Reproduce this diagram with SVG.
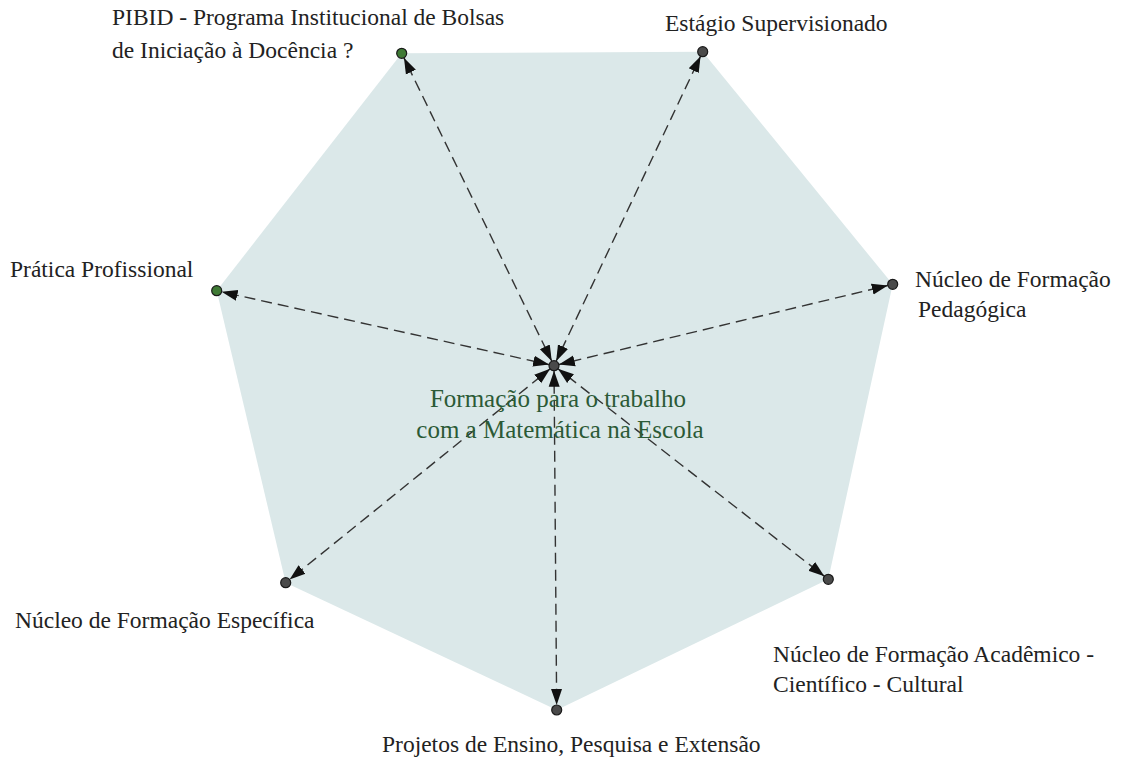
<svg xmlns="http://www.w3.org/2000/svg" width="1130" height="760" viewBox="0 0 1130 760">
<defs>
<marker id="arr" viewBox="0 0 22 14" markerUnits="userSpaceOnUse" markerWidth="22" markerHeight="14" refX="21" refY="7" orient="auto-start-reverse">
<path d="M0,1.5 L16,7 L0,12.5 z" fill="#111"/>
</marker>
<style>
.lbl{font-family:"Liberation Serif","DejaVu Serif",serif;font-size:23.5px;fill:#222}
.ctr{font-family:"Liberation Serif","DejaVu Serif",serif;font-size:25px;fill:#2b5a36}
.con{stroke:#333;stroke-width:1.4;stroke-dasharray:11 6;fill:none;marker-start:url(#arr);marker-end:url(#arr)}
.dot{fill:#4a4a4a;stroke:#1a1a1a;stroke-width:1.2}
.gdot{fill:#3f7a35;stroke:#1a1a1a;stroke-width:1.2}
</style>
</defs>
<rect width="1130" height="760" fill="#ffffff"/>
<polygon id="area" points="401.7,53.3 702.7,51.7 892.7,284.3 828.3,579.3 556.7,710 285.7,582.7 216.7,290.7" fill="#dbe8e9"/>
<g id="connectors">
<line class="con" x1="554" y1="365.7" x2="401.7" y2="53.3"/>
<line class="con" x1="554" y1="365.7" x2="702.7" y2="51.7"/>
<line class="con" x1="554" y1="365.7" x2="892.7" y2="284.3"/>
<line class="con" x1="554" y1="365.7" x2="828.3" y2="579.3"/>
<line class="con" x1="554" y1="365.7" x2="556.7" y2="710"/>
<line class="con" x1="554" y1="365.7" x2="285.7" y2="582.7"/>
<line class="con" x1="554" y1="365.7" x2="216.7" y2="290.7"/>
</g>
<g id="center">
<circle class="dot" cx="554" cy="365.7" r="5"/>
<text class="ctr" x="558" y="407" text-anchor="middle">Formação para o trabalho</text>
<text class="ctr" x="560" y="438" text-anchor="middle">com a Matemática na Escola</text>
</g>
<g id="pibid">
<circle class="gdot" cx="401.7" cy="53.3" r="5"/>
<text class="lbl" x="112" y="25">PIBID - Programa Institucional de Bolsas</text>
<text class="lbl" x="112" y="58">de Iniciação à Docência ?</text>
</g>
<g id="estagio">
<circle class="dot" cx="702.7" cy="51.7" r="5"/>
<text class="lbl" x="665" y="31">Estágio Supervisionado</text>
</g>
<g id="pedagogica">
<circle class="dot" cx="892.7" cy="284.3" r="5"/>
<text class="lbl" x="915" y="287">Núcleo de Formação</text>
<text class="lbl" x="918" y="317">Pedagógica</text>
</g>
<g id="academico">
<circle class="dot" cx="828.3" cy="579.3" r="5"/>
<text class="lbl" x="773" y="662">Núcleo de Formação Acadêmico -</text>
<text class="lbl" x="773" y="692">Científico - Cultural</text>
</g>
<g id="projetos">
<circle class="dot" cx="556.7" cy="710" r="5"/>
<text class="lbl" x="382" y="752">Projetos de Ensino, Pesquisa e Extensão</text>
</g>
<g id="especifica">
<circle class="dot" cx="285.7" cy="582.7" r="5"/>
<text class="lbl" x="15" y="628">Núcleo de Formação Específica</text>
</g>
<g id="pratica">
<circle class="gdot" cx="216.7" cy="290.7" r="5"/>
<text class="lbl" x="10" y="277">Prática Profissional</text>
</g>
</svg>
